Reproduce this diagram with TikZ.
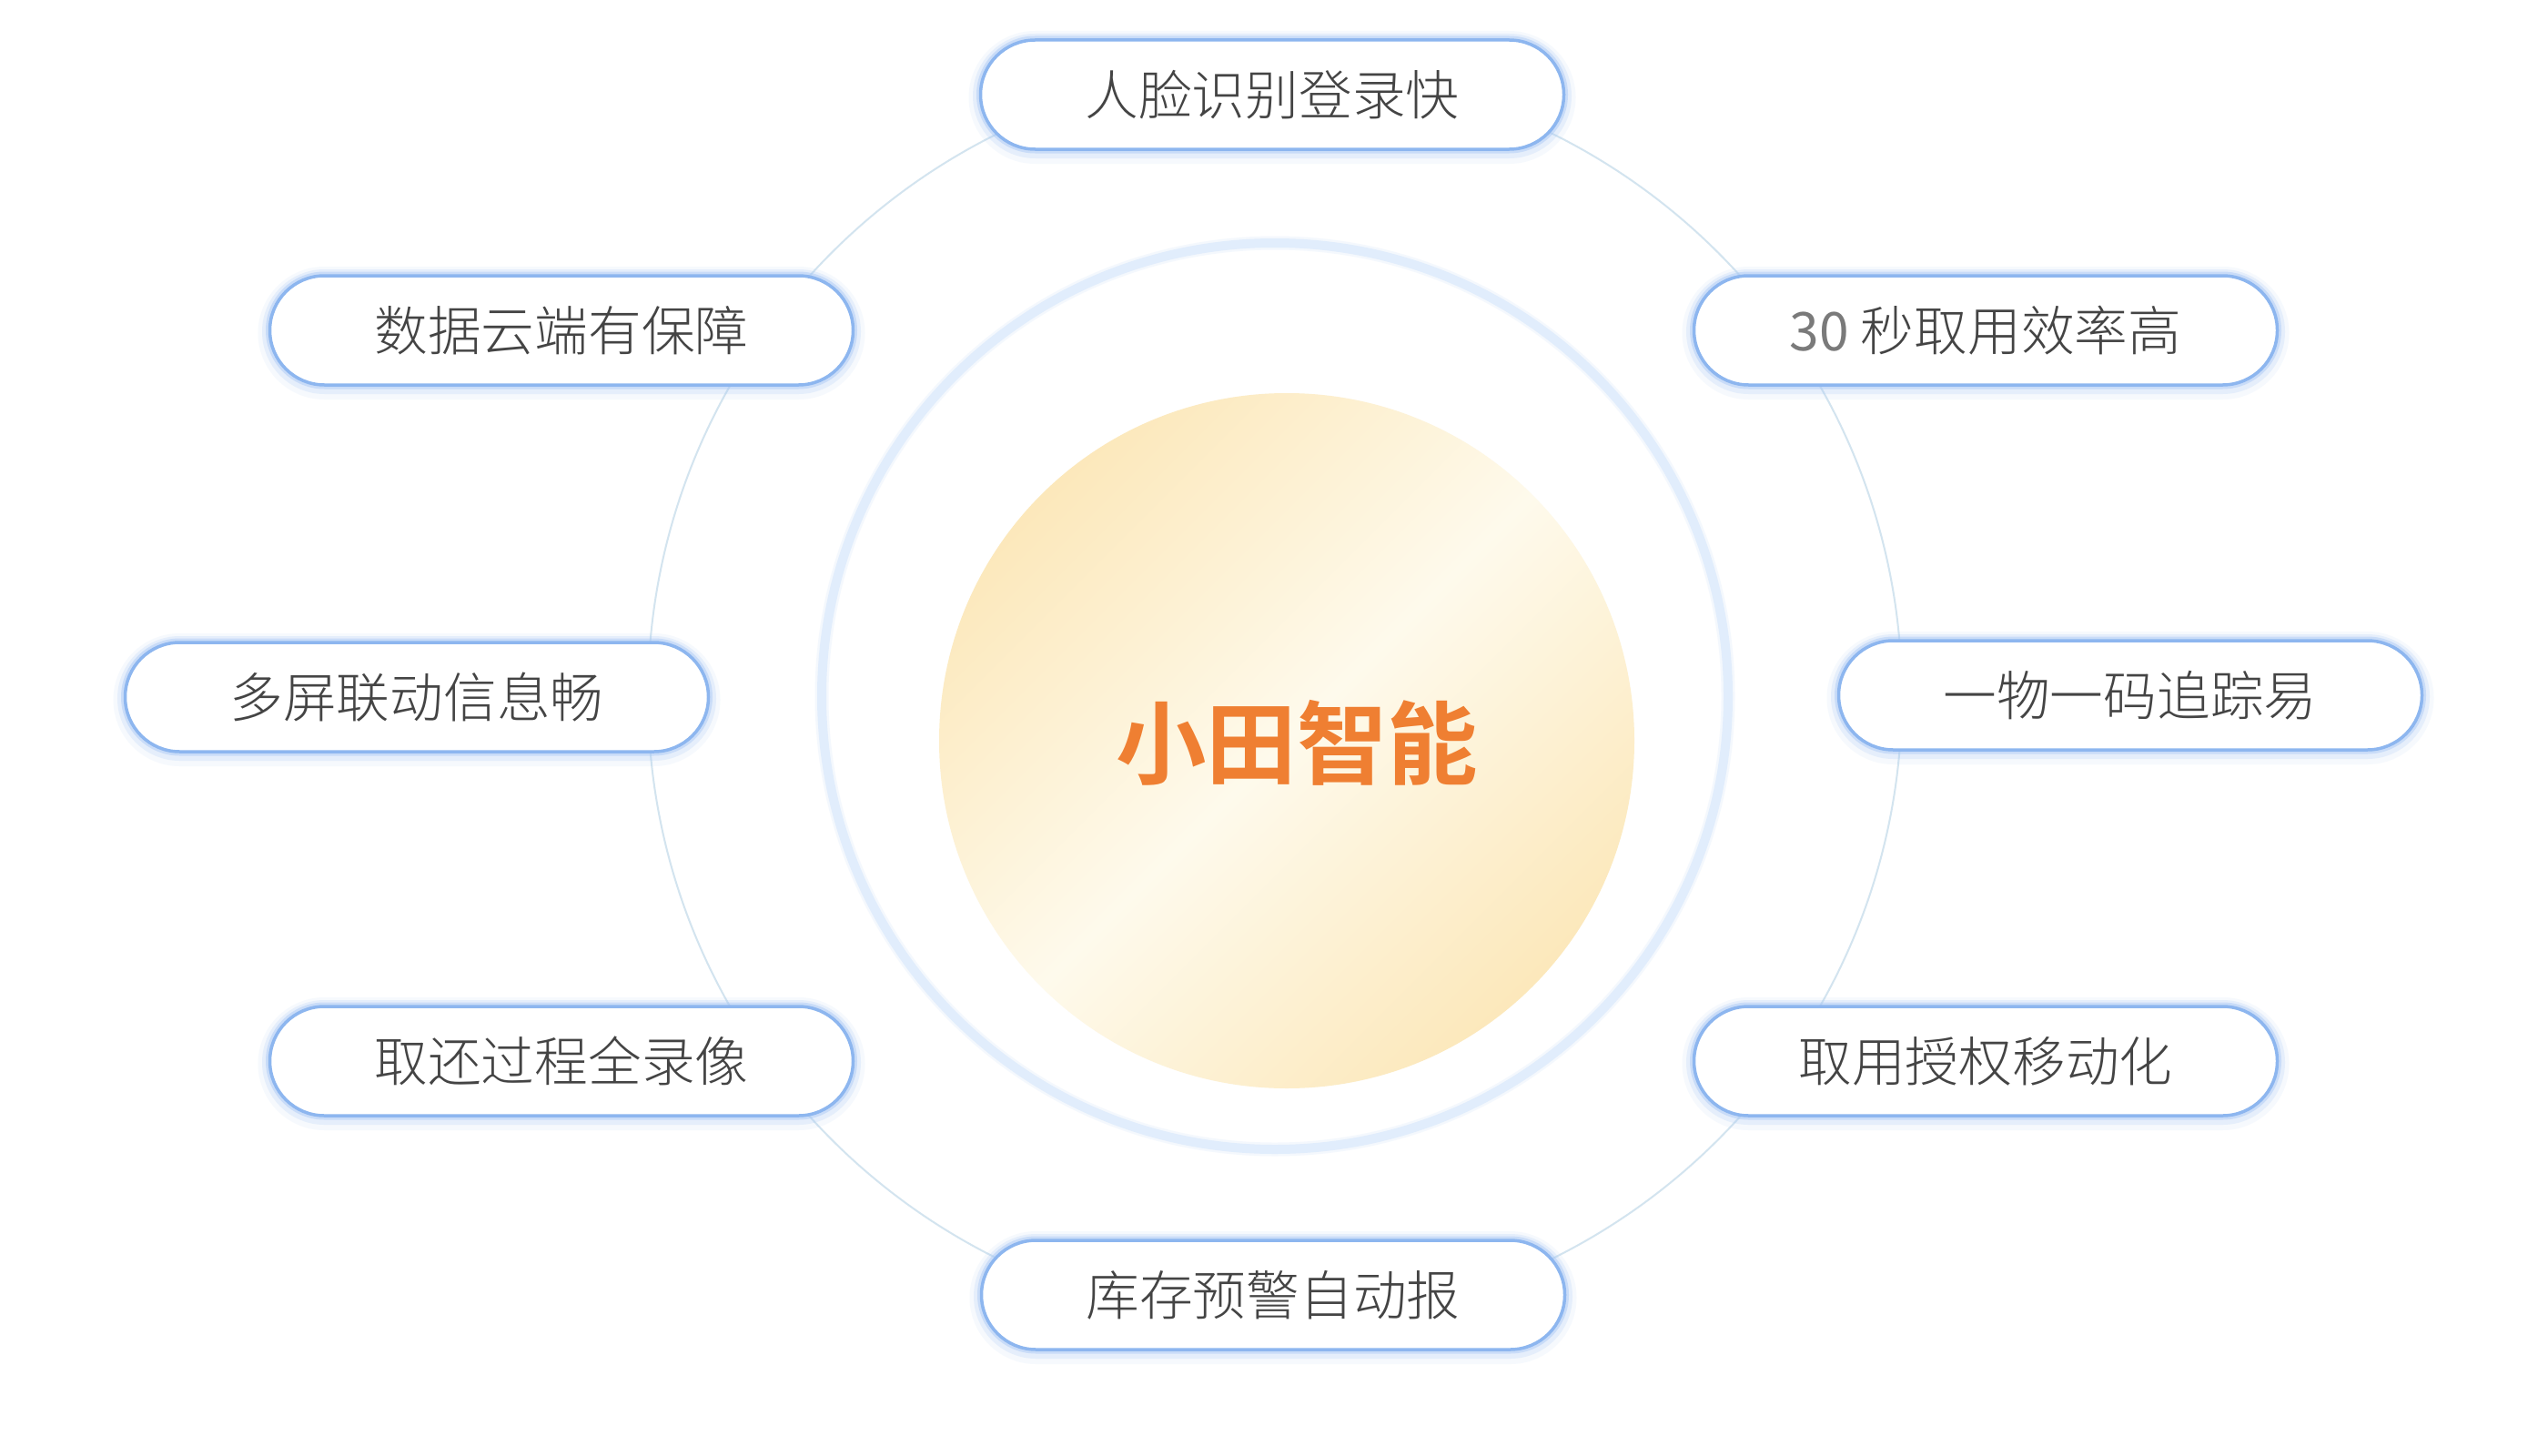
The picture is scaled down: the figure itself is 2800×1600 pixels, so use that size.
\documentclass[tikz,border=0pt]{standalone}
\usepackage{fontspec}
\newfontfamily\cjk{Noto Sans CJK SC}
\IfFontExistsTF{Noto Sans CJK SC Light}{\newfontfamily\cjklight{Noto Sans CJK SC Light}}{\newfontfamily\cjklight{Noto Sans CJK SC}}
\IfFontExistsTF{Noto Sans CJK SC Bold}{\newfontfamily\cjkbold{Noto Sans CJK SC Bold}}{\newfontfamily\cjkbold[FakeBold=2]{Noto Sans CJK SC}}
\definecolor{pilltext}{HTML}{444444}
\definecolor{numtext}{HTML}{7A7A7A}
\definecolor{brand}{HTML}{EF7F32}
\definecolor{ringblue}{HTML}{E1EDFC}
\definecolor{thinline}{HTML}{D3E4EF}
\definecolor{pilledge}{HTML}{8DB6EF}
\definecolor{glowblue}{HTML}{A9C8F5}
\definecolor{goldedge}{HTML}{FCE8BB}
\definecolor{goldlight}{HTML}{FEFAEC}
\tikzset{
  pill/.style={draw=pilledge, line width=3.5pt, fill=white,
    rounded corners=60pt, minimum width=641pt, minimum height=120pt,
    inner sep=0pt, text=pilltext,
    font=\cjklight\fontsize{58.7pt}{70pt}\selectfont,
    preaction={draw=glowblue, line width=26pt, draw opacity=0.10, transform canvas={yshift=-3pt}},
    preaction={draw=glowblue, line width=17pt, draw opacity=0.22, transform canvas={yshift=-1.5pt}},
    preaction={draw=glowblue, line width=9pt, draw opacity=0.45}},
  thincircle/.style={draw=thinline, line width=2pt},
  bluering/.style={draw=ringblue, line width=10pt,
    preaction={draw=ringblue, line width=15pt, draw opacity=0.35}},
  goldball/.style={left color=goldedge, right color=goldedge, middle color=goldlight, shading angle=45},
  brandtext/.style={text=brand, font=\cjkbold\fontsize{99.5pt}{110pt}\selectfont}
}
\begin{document}
\begin{tikzpicture}[x=1pt,y=-1pt]
\useasboundingbox (0,0) rectangle (2800,1600);
\fill[white] (0,0) rectangle (2800,1600);
\coordinate (ctr) at (1401,765);
\coordinate (goldc) at (1414,814);
\draw[thincircle] (ctr) circle[radius=689];
\draw[bluering] (ctr) circle[radius=498];
\shade[goldball] (goldc) circle[radius=382];
\node[brandtext] (core) at (1425,816) {小田智能};
\node[pill] (p1) at (1398,104) {人脸识别登录快};
\node[pill] (p2) at (617,363) {数据云端有保障};
\node[pill] (p3) at (2182,363) {{\cjk\color{numtext}30} 秒取用效率高};
\node[pill] (p4) at (458,766) {多屏联动信息畅};
\node[pill] (p5) at (2341,764) {一物一码追踪易};
\node[pill] (p6) at (617,1166) {取还过程全录像};
\node[pill] (p7) at (2182,1166) {取用授权移动化};
\node[pill] (p8) at (1399,1423) {库存预警自动报};
\end{tikzpicture}
\end{document}
